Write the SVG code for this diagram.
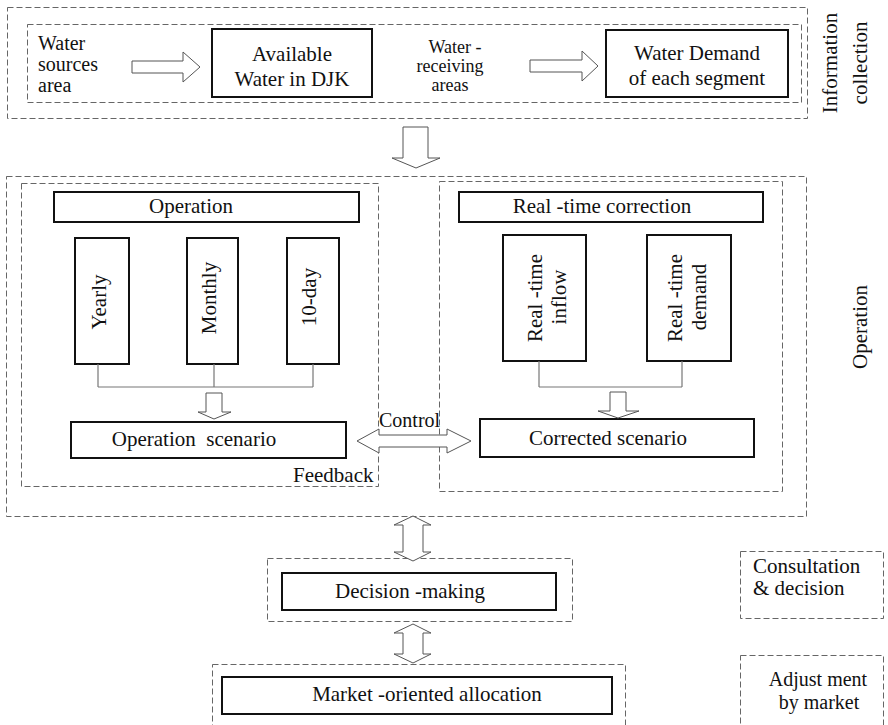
<svg xmlns="http://www.w3.org/2000/svg" width="888" height="725" viewBox="0 0 888 725">
<style>
text{font-family:"Liberation Serif","Times New Roman",serif;font-size:21px;fill:#111}
.m{text-anchor:middle}
.s{font-size:18px}
.box{fill:#fff;stroke:#111;stroke-width:2}
.dash{fill:none;stroke:#666;stroke-width:1;stroke-dasharray:6 3}
.ha{fill:#fff;stroke:#555;stroke-width:1}
.ln{fill:none;stroke:#777;stroke-width:1.2}
</style>
<rect width="888" height="725" fill="#fff"/>
<g id="frames">
<rect class="dash" x="7.5" y="7.5" width="800" height="111"/>
<rect class="dash" x="27.5" y="24.5" width="774" height="78"/>
<rect class="dash" x="6.5" y="176.5" width="800" height="340"/>
<rect class="dash" x="21.5" y="183.5" width="357" height="303"/>
<rect class="dash" x="439.5" y="181.5" width="343" height="310"/>
<rect class="dash" x="267.5" y="558.5" width="305" height="63"/>
<rect class="dash" x="212.5" y="664.5" width="413" height="70"/>
<rect class="dash" x="740.5" y="551.5" width="143" height="67"/>
<rect class="dash" x="740.5" y="655.5" width="143" height="80"/>
</g>
<g id="labels">
<text x="38" y="50" style="font-size:20px">Water</text>
<text x="38" y="71" style="font-size:20px">sources</text>
<text x="38" y="92" style="font-size:20px">area</text>
<text class="m s" x="455" y="53">Water -</text>
<text class="m s" x="450" y="72">receiving</text>
<text class="m s" x="450" y="91">areas</text>
<text class="m" transform="translate(837,63) rotate(-90)">Information</text>
<text class="m" transform="translate(867,63) rotate(-90)">collection</text>
<text class="m" transform="translate(867,327) rotate(-90)">Operation</text>
<text x="293" y="482">Feedback</text>
<text x="753" y="573">Consultation</text>
<text x="753" y="595">&amp; decision</text>
<text class="m" x="818" y="686" style="font-size:20px">Adjust ment</text>
<text class="m" x="819" y="709" style="font-size:20px">by market</text>
</g>
<g id="available">
<rect class="box" x="212" y="29" width="160" height="68"/>
<text class="m" x="292" y="61">Available</text>
<text class="m" x="292" y="86">Water in DJK</text>
</g>
<g id="demand">
<rect class="box" x="606" y="30" width="182" height="67"/>
<text class="m" x="697" y="60">Water Demand</text>
<text class="m" x="697" y="85">of each segment</text>
</g>
<g id="operation">
<rect class="box" x="54" y="192" width="305" height="30"/>
<text class="m" x="191" y="213">Operation</text>
</g>
<g id="yearly">
<rect class="box" x="75" y="238" width="54" height="126"/>
<text class="m" transform="translate(106,302) rotate(-90)">Yearly</text>
</g>
<g id="monthly">
<rect class="box" x="187" y="238" width="51" height="126"/>
<text class="m" transform="translate(216,298) rotate(-90)">Monthly</text>
</g>
<g id="tenday">
<rect class="box" x="287" y="238" width="52" height="126"/>
<text class="m" transform="translate(316,297) rotate(-90)">10-day</text>
</g>
<g id="opscenario">
<rect class="box" x="71" y="422" width="275" height="36"/>
<text class="m" x="194" y="446" xml:space="preserve">Operation  scenario</text>
</g>
<g id="realtime">
<rect class="box" x="459" y="192" width="304" height="30"/>
<text class="m" x="602" y="213">Real -time correction</text>
</g>
<g id="inflow">
<rect class="box" x="503" y="235" width="83" height="126"/>
<text class="m" transform="translate(542,298) rotate(-90)">Real -time</text>
<text class="m" transform="translate(566,297) rotate(-90)">inflow</text>
</g>
<g id="rtdemand">
<rect class="box" x="647" y="235" width="84" height="126"/>
<text class="m" transform="translate(682,298) rotate(-90)">Real -time</text>
<text class="m" transform="translate(706,297) rotate(-90)">demand</text>
</g>
<g id="corrected">
<rect class="box" x="480" y="419" width="274" height="38"/>
<text class="m" x="608" y="445">Corrected scenario</text>
</g>
<g id="decision">
<rect class="box" x="282" y="573" width="274" height="37"/>
<text class="m" x="410" y="598">Decision -making</text>
</g>
<g id="market">
<rect class="box" x="222" y="677" width="390" height="37"/>
<text class="m" x="427" y="701">Market -oriented allocation</text>
</g>
<g id="connectors">
<polygon class="ha" points="132,61 183,61 183,52 200,67 183,82 183,73 132,73"/>
<polygon class="ha" points="530,60 582,60 582,51 598,66 582,81 582,72 530,72"/>
<polygon class="ha" points="403,127 428,127 428,158 440,158 416,168 392,158 403,158"/>
<path class="ln" d="M98,364V387M214,364V387M313,364V387M98,387H313"/>
<polygon class="ha" points="206,393 222,393 222,412 231,412 214,419 198,412 206,412"/>
<path class="ln" d="M539,361V387M682,361V387M539,387H682"/>
<polygon class="ha" points="610,392 626,392 626,411 639,411 618,418 598,411 610,411"/>
<polygon class="ha" points="357,441 379,429 379,435 447,435 447,429 471,441 447,453 447,447 379,447 379,453"/>
<text x="379" y="427" style="font-size:20px">Control</text>
<polygon class="ha" points="413,516 431,525 423,525 423,552 431,552 413,561 394,552 403,552 403,525 394,525"/>
<polygon class="ha" points="413,624 431,633 423,633 423,654 431,654 413,663 394,654 403,654 403,633 394,633"/>
</g>
</svg>
